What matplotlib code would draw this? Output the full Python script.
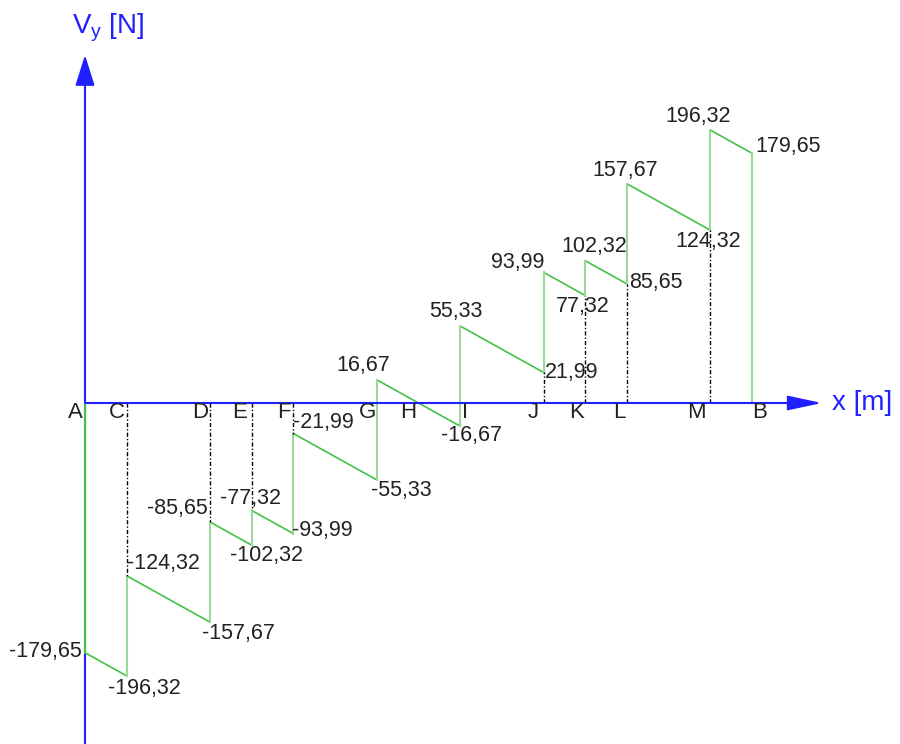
import matplotlib.pyplot as plt
import numpy as np

plt.rcParams['font.family'] = ['Liberation Sans', 'DejaVu Sans']
plt.rcParams['mathtext.fontset'] = 'custom'
plt.rcParams['mathtext.rm'] = 'Liberation Sans'
plt.rcParams['mathtext.it'] = 'Liberation Sans:italic'

# points along the beam
names = ['A', 'C', 'D', 'E', 'F', 'G', 'I', 'J', 'K', 'L', 'M', 'B']
x_pts = [0, 1, 3, 4, 5, 7, 9, 11, 12, 13, 15, 16]
# shear just left / just right of each point [N]
v_left = [0, -196.32, -157.67, -102.32, -93.99, -55.33, -16.67, 21.99, 77.32, 85.65, 124.32, 179.65]
v_right = [-179.65, -124.32, -85.65, -77.32, -21.99, 16.67, 55.33, 93.99, 102.32, 157.67, 196.32, 0]

# zero crossing
h_name = 'H'
h_x = 8

# label placement (pixel offsets from the point, alignment)
lbl_left = [None, (-19, -13, 'left'), (-8, -11, 'left'), (-22, -10, 'left'), (-1, 3, 'left'),
            (-6, -11, 'left'), (-19, -9, 'left'), (1, 0, 'left'), (-29, -11, 'left'),
            (2, 1, 'left'), (-35, -11, 'left'), (3, 7, 'left')]
lbl_right = [(-3, 1, 'right'), (0, 12, 'left'), (-2, 14, 'right'), (-32, 12, 'left'), (0, 11, 'left'),
             (13, 14, 'right'), (-31, 15, 'left'), (1, 10, 'right'), (-24, 14, 'left'),
             (-35, 13, 'left'), (-45, 14, 'left'), None]
name_dx = [-10, -10, -10, -12, -10, -9, 5, -10, -9, -8, -14, 8]

px_per_m = 41.69
px_per_n = 1.39
x0_px, y0_px = 85, 403
W, H = 900, 744

dark_green = '#45c245'
light_green = '#9ad99a'
blue = '#1f1fff'


def fmt(v):
    return ('%.2f' % v).replace('.', ',')


fig = plt.figure(figsize=(9, 7.44), dpi=100)
ax = fig.add_axes([0, 0, 1, 1])
ax.set_xlim(-x0_px / px_per_m, (W - x0_px) / px_per_m)
ax.set_ylim(-(H - y0_px) / px_per_n, y0_px / px_per_n)
ax.axis('off')

ymin = -(H - y0_px) / px_per_n
y_tip = (y0_px - 55) / px_per_n
x_tip = (822 - x0_px) / px_per_m

# y axis
ax.annotate('', xy=(0, y_tip), xytext=(0, ymin),
            arrowprops=dict(arrowstyle='-|>,head_length=19,head_width=6', mutation_scale=1,
                            color=blue, lw=1.5, shrinkA=0, shrinkB=0), zorder=1)

# sloped parts
for i in range(len(x_pts) - 1):
    ax.plot([x_pts[i], x_pts[i + 1]], [v_right[i], v_left[i + 1]], color=dark_green, lw=1.2, zorder=2)

# jumps and dashed guides
for i in range(len(x_pts)):
    c = dark_green if i == 0 else light_green
    ax.plot([x_pts[i], x_pts[i]], [v_left[i], v_right[i]], color=c, lw=1.5, zorder=2)
    if v_left[i] * v_right[i] > 0:
        near = v_left[i] if abs(v_left[i]) < abs(v_right[i]) else v_right[i]
        ax.plot([x_pts[i], x_pts[i]], [0, near], color='black', lw=1.0,
                linestyle=(0, (3, 1.5, 1, 1.5)), zorder=2)

# x axis
ax.annotate('', xy=(x_tip, 0), xytext=(0, 0),
            arrowprops=dict(arrowstyle='-|>,head_length=21,head_width=4.5', mutation_scale=1,
                            color=blue, lw=1.5, shrinkA=0, shrinkB=0), zorder=3)

# value labels
for i in range(len(x_pts)):
    for v, off in ((v_left[i], lbl_left[i]), (v_right[i], lbl_right[i])):
        if off is None:
            continue
        ax.annotate(fmt(v), xy=(x_pts[i], v), xytext=(off[0], off[1]), textcoords='offset pixels',
                    ha=off[2], va='center', fontsize=15.5, color='#222222', zorder=4)

# point names
for i in range(len(x_pts)):
    ax.annotate(names[i], xy=(x_pts[i], 0), xytext=(name_dx[i], -9), textcoords='offset pixels',
                ha='center', va='center', fontsize=16, color='#222222', zorder=4)
ax.annotate(h_name, xy=(h_x, 0), xytext=(-10, -9), textcoords='offset pixels',
            ha='center', va='center', fontsize=16, color='#222222', zorder=4)

# axis titles
ax.text((72 - x0_px) / px_per_m, (y0_px - 28) / px_per_n, r'V$_\mathrm{y}$ [N]',
        ha='left', va='center', fontsize=20, color=blue)
ax.text((832 - x0_px) / px_per_m, 0, 'x [m]', ha='left', va='center', fontsize=20, color=blue)

fig.savefig('out.png', dpi=100)
